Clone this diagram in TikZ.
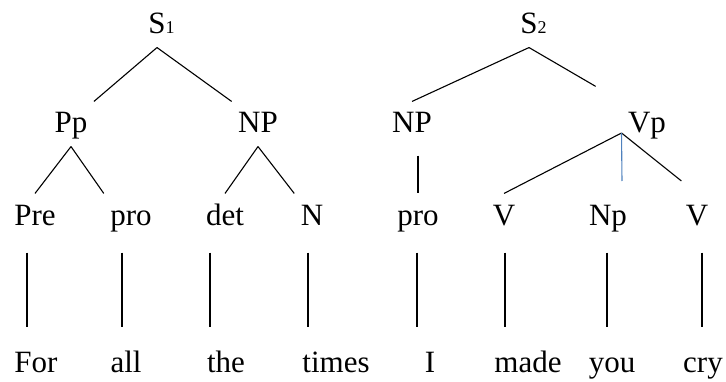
\documentclass[tikz,border=0pt]{standalone}
\usepackage{fontspec}
\setmainfont{Liberation Serif}
\usepackage{xcolor}
\definecolor{stemblue}{RGB}{79,129,189}
\def\sidx#1{\rlap{\fontsize{18}{20}\selectfont #1}}

\begin{document}
\begin{tikzpicture}[x=1pt,y=1pt,line width=1.1pt]
    \tikzstyle{word}=[anchor=base,font=\fontsize{31}{36}\selectfont,text height=25pt,text depth=7pt,inner sep=6pt]
    \tikzstyle{stem}=[shorten <=14pt,shorten >=13pt]

    \useasboundingbox (0,0) rectangle (726,381);

    % Draw the two sentence nodes and the phrase nodes
    \node[word] (S-1) at (157,347) {S\sidx{1}};
    \node[word] (S-2) at (529,347) {S\sidx{2}};
    \node[word] (Pp) at (71,248) {Pp};
    \node[word] (NP-1) at (258,248) {NP};
    \node[word] (NP-2) at (412,248) {NP};
    \node[word] (Vp) at (647,248) {Vp};

    % Draw the word classes
    \foreach \name / \x / \txt in {C-1/35/Pre, C-2/131/pro, C-3/225/det, C-4/312/N,
                                   C-5/418/pro, C-6/504/V, C-7/608/Np, C-8/697/V}
        \node[word] (\name) at (\x,156) {\txt};

    % Draw the words of the sentence
    \foreach \name / \x / \txt in {W-1/36/For, W-2/126/all, W-3/226/the, W-4/336/times,
                                   W-5/430/I, W-6/528/made, W-7/612/you, W-8/703/cry}
        \node[word] (\name) at (\x,9) {\txt};

    % Connect every word class with its word
    % (the lines sit a little off the middle of the word class)
    \foreach \i / \dx in {1/-8, 2/-9, 3/-15, 4/-4, 5/-1, 6/1, 7/-1, 8/5}
        \draw[stem] ([xshift=\dx pt]C-\i.south) -- ([xshift=\dx pt]C-\i.south |- W-\i.north);

    % First tree
    \draw (S-1.south) -- (Pp.north east);
    \draw (S-1.south) -- (NP-1.north west);
    \draw (Pp.south) -- (C-1.north);
    \draw (Pp.south) -- (C-2.north west);
    \draw (NP-1.south) -- (C-3.north);
    \draw (NP-1.south) -- (C-4.north west);

    % Second tree
    \draw (S-2.south) -- (NP-2.north);
    \draw[shorten >=30pt] (S-2.south) -- (Vp.north west);
    \draw[shorten <=9pt] (C-5.north |- NP-2.south) -- (C-5.north);
    \draw (Vp.base west) -- (C-6.north);
    \draw[shorten >=20pt] (Vp.base west) -- (C-8.north);
    \coordinate (Vp-stem) at (622,200);
    \draw[stemblue] (Vp.base west) -- (Vp-stem);
\end{tikzpicture}
\end{document}
